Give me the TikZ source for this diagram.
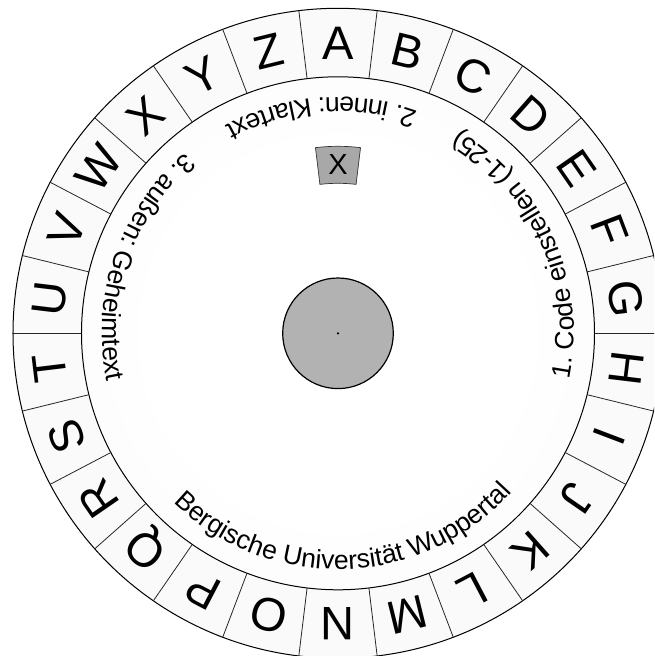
\documentclass[tikz,border=0pt]{standalone}
\usepackage{fontspec}
\setmainfont{Liberation Sans}
\usetikzlibrary{decorations.text}
\pgfdeclareradialshading{diskshade}{\pgfpoint{0bp}{0bp}}{color(0bp)=(white); color(18bp)=(white); color(50bp)=(black!4)}
\pgfdeclareradialshading{ringshade}{\pgfpoint{0bp}{0bp}}{color(0bp)=(black!2); color(40bp)=(black!2); color(50bp)=(black!4)}
\tikzset{
  ringletter/.style={font=\fontsize{47}{47}\selectfont, inner sep=0pt, anchor=base},
  divider/.style={line width=0.8pt, draw=black!85},
  rimline/.style={line width=1pt, draw=black},
  hubdisk/.style={circle, draw=black, line width=1.2pt, fill=black!30, minimum size=110.6pt, inner sep=0pt},
  windowbox/.style={draw=black!80, line width=0.7pt, fill=black!34},
  windowletter/.style={font=\fontsize{29}{29}\selectfont, inner sep=0pt, anchor=base},
  curvedlabel/.style={decorate, decoration={text along path, text align=center, text={#1}}}
}
\begin{document}
\begin{tikzpicture}
\useasboundingbox (-338pt,-322.7pt) rectangle (316pt,333.3pt);
\clip (-338pt,-322.7pt) rectangle (316pt,333.3pt);
\fill[white] (-338pt,-322.7pt) rectangle (316pt,333.3pt);
% outer ring
\shade[shading=ringshade] (0,0) circle (325pt);
\draw[rimline] (0,0) circle (325pt);
% inner disk
\shade[shading=diskshade] (0,0) circle (256.5pt);
\draw[rimline] (0,0) circle (256.5pt);
% dividers
\foreach \k in {0,...,25} {
  \pgfmathsetmacro{\ang}{90+360/52-\k*360/26}
  \draw[divider] (\ang:256.5pt) -- (\ang:325pt);
}
% letters
\foreach \L [count=\k from 0] in {A,B,C,D,E,F,G,H,I,J,K,L,M,N,O,P,Q,R,S,T,U,V,W,X,Y,Z} {
  \pgfmathsetmacro{\ang}{90-\k*360/26}
  \pgfmathsetmacro{\rot}{-\k*360/26}
  \node[ringletter, rotate=\rot] (l\L) at (\ang:274.2pt) {\L};
}
% window
\draw[windowbox] (83.08:150pt) arc[start angle=83.08, end angle=96.92, radius=150pt]
  -- (96.92:187pt) arc[start angle=96.92, end angle=83.08, radius=187pt] -- cycle;
\node[windowletter] (win) at (90:158.3pt) {X};
% curved labels
\path[curvedlabel={|\fontsize{26.5}{26.5}\selectfont|1. Code einstellen (1-25)}]
  (-36:236pt) arc[start angle=-36, end angle=84, radius=236pt];
\path[curvedlabel={|\fontsize{26.5}{26.5}\selectfont|2. innen: Klartext}]
  (34.4:236pt) arc[start angle=34.4, end angle=154.4, radius=236pt];
\path[curvedlabel={|\fontsize{26.5}{26.5}\selectfont|3. außen: Geheimtext}]
  (101:236pt) arc[start angle=101, end angle=221, radius=236pt];
\path[curvedlabel={|\fontsize{26.5}{26.5}\selectfont|Bergische Universität Wuppertal}]
  (211.7:236pt) arc[start angle=211.7, end angle=331.7, radius=236pt];
% hub
\node[hubdisk] (hub) at (0,0) {};
\fill (hub.center) circle (1.2pt);
\end{tikzpicture}
\end{document}
